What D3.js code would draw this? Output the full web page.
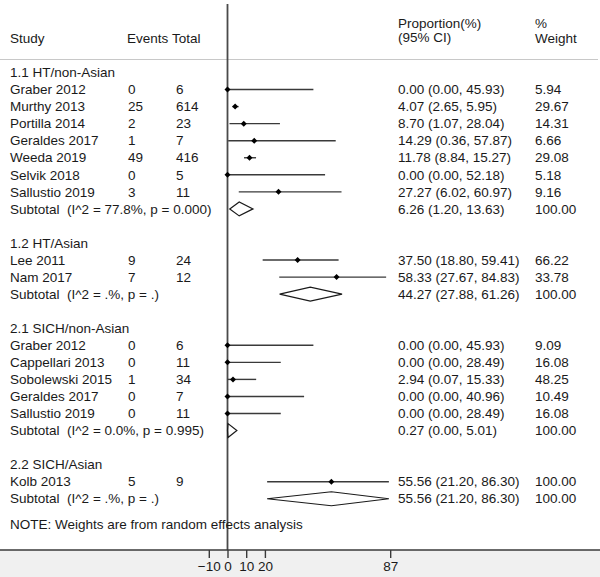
<!DOCTYPE html>
<html>
<head>
<meta charset="utf-8">
<script src="https://cdn.jsdelivr.net/npm/d3@7"></script>
<style>
  body { margin: 0; background: #fff; }
  svg text { font-family: "Liberation Sans", Arial, sans-serif; font-size: 13.5px; fill: #1a1a1a; white-space: pre; }
</style>
</head>
<body>
<svg id="chart" width="600" height="577"></svg>
<script>
// row kinds: g = group title, s = study, t = subtotal, b = blank
const rowKind = ['g','s','s','s','s','s','s','s','t','b',
                 'g','s','s','t','b',
                 'g','s','s','s','s','s','t','b',
                 'g','s','t'];
const rowLabel = ['1.1 HT/non-Asian','Graber 2012','Murthy 2013','Portilla 2014','Geraldes 2017','Weeda 2019','Selvik 2018','Sallustio 2019','Subtotal  (I^2 = 77.8%, p = 0.000)','',
                  '1.2 HT/Asian','Lee 2011','Nam 2017','Subtotal  (I^2 = .%, p = .)','',
                  '2.1 SICH/non-Asian','Graber 2012','Cappellari 2013','Sobolewski 2015','Geraldes 2017','Sallustio 2019','Subtotal  (I^2 = 0.0%, p = 0.995)','',
                  '2.2 SICH/Asian','Kolb 2013','Subtotal  (I^2 = .%, p = .)'];
const rowEvents = ['', '0','25','2','1','49','0','3','','',
                   '', '9','7','','',
                   '', '0','0','1','0','0','','',
                   '', '5',''];
const rowTotal = ['', '6','614','23','7','416','5','11','','',
                  '', '24','12','','',
                  '', '6','11','34','7','11','','',
                  '', '9',''];
const rowEst = [null, 0.00, 4.07, 8.70, 14.29, 11.78, 0.00, 27.27, 6.26, null,
                null, 37.50, 58.33, 44.27, null,
                null, 0.00, 0.00, 2.94, 0.00, 0.00, 0.27, null,
                null, 55.56, 55.56];
const rowLo = [null, 0.00, 2.65, 1.07, 0.36, 8.84, 0.00, 6.02, 1.20, null,
               null, 18.80, 27.67, 27.88, null,
               null, 0.00, 0.00, 0.07, 0.00, 0.00, 0.00, null,
               null, 21.20, 21.20];
const rowHi = [null, 45.93, 5.95, 28.04, 57.87, 15.27, 52.18, 60.97, 13.63, null,
               null, 59.41, 84.83, 61.26, null,
               null, 45.93, 28.49, 15.33, 40.96, 28.49, 5.01, null,
               null, 86.30, 86.30];
const rowWeight = ['', '5.94','29.67','14.31','6.66','29.08','5.18','9.16','100.00','',
                   '', '66.22','33.78','100.00','',
                   '', '9.09','16.08','48.25','10.49','16.08','100.00','',
                   '', '100.00','100.00'];
const xTicks = [-10, 0, 10, 20, 87];
const noteText = 'NOTE: Weights are from random effects analysis';

const W = 600, H = 577;
const svg = d3.select('#chart');

const x = d3.scaleLinear().domain([0, 87]).range([227.5, 227.5 + 87 * 1.87]);
const y = d3.scaleLinear().domain([0, 1]).range([72.5, 89.55]);
const axisY = 550;
const f2 = d3.format('.2f');

// bottom band
svg.append('rect').attr('x', 0).attr('y', axisY).attr('width', W).attr('height', H - axisY).attr('fill', '#f0f0f0');

// header
const hdr = svg.append('g');
hdr.append('text').attr('x', 10).attr('y', 38).attr('dy', '0.35em').text('Study');
hdr.append('text').attr('x', 127).attr('y', 38).attr('dy', '0.35em').text('Events');
hdr.append('text').attr('x', 172).attr('y', 38).attr('dy', '0.35em').text('Total');
hdr.append('text').attr('x', 398).attr('y', 23).attr('dy', '0.35em').text('Proportion(%)');
hdr.append('text').attr('x', 398).attr('y', 37).attr('dy', '0.35em').text('(95% CI)');
hdr.append('text').attr('x', 535).attr('y', 23).attr('dy', '0.35em').text('%');
hdr.append('text').attr('x', 535).attr('y', 38).attr('dy', '0.35em').text('Weight');
svg.append('line').attr('x1', 0).attr('x2', 598).attr('y1', 59.5).attr('y2', 59.5)
  .attr('stroke', '#c8c8c8').attr('stroke-width', 1);

// null line
svg.append('line').attr('x1', x(0)).attr('x2', x(0)).attr('y1', 4).attr('y2', axisY)
  .attr('stroke', '#4a4a4a').attr('stroke-width', 1.8);

const idx = d3.range(rowKind.length);

// text columns
const rows = svg.append('g');
idx.forEach(i => {
  const yy = y(i);
  if (rowKind[i] === 'b') return;
  rows.append('text').attr('x', 10).attr('y', yy).attr('dy', '0.35em').text(rowLabel[i]);
  if (rowKind[i] === 'g') return;
  rows.append('text').attr('x', 128).attr('y', yy).attr('dy', '0.35em').text(rowEvents[i]);
  rows.append('text').attr('x', 176).attr('y', yy).attr('dy', '0.35em').text(rowTotal[i]);
  rows.append('text').attr('x', 398).attr('y', yy).attr('dy', '0.35em')
    .text(f2(rowEst[i]) + ' (' + f2(rowLo[i]) + ', ' + f2(rowHi[i]) + ')');
  rows.append('text').attr('x', 535).attr('y', yy).attr('dy', '0.35em').text(rowWeight[i]);
});

// CI lines and markers
const marks = svg.append('g');
const studyIdx = idx.filter(i => rowKind[i] === 's');
marks.selectAll('line.ci').data(studyIdx).join('line')
  .attr('class', 'ci')
  .attr('x1', i => x(rowLo[i])).attr('x2', i => x(rowHi[i]))
  .attr('y1', i => y(i)).attr('y2', i => y(i))
  .attr('stroke', '#3a3a3a').attr('stroke-width', 1.4);
const ms = 3;
marks.selectAll('path.pt').data(studyIdx).join('path')
  .attr('class', 'pt')
  .attr('d', i => {
    const cx = x(rowEst[i]), cy = y(i);
    return `M${cx - ms},${cy}L${cx},${cy - ms}L${cx + ms},${cy}L${cx},${cy + ms}Z`;
  })
  .attr('fill', '#000');

const subIdx = idx.filter(i => rowKind[i] === 't');
marks.selectAll('path.dia').data(subIdx).join('path')
  .attr('class', 'dia')
  .attr('d', i => {
    const cy = y(i), h = 7;
    return `M${x(rowLo[i])},${cy}L${x(rowEst[i])},${cy - h}L${x(rowHi[i])},${cy}L${x(rowEst[i])},${cy + h}Z`;
  })
  .attr('fill', 'none').attr('stroke', '#1a1a1a').attr('stroke-width', 1.2);

// note
svg.append('text').attr('x', 10).attr('y', 524).attr('dy', '0.35em').text(noteText);

// axis
svg.append('line').attr('x1', 0).attr('x2', W).attr('y1', axisY).attr('y2', axisY)
  .attr('stroke', '#3a3a3a').attr('stroke-width', 1.4);
const ax = svg.append('g').attr('transform', `translate(0,${axisY})`)
  .call(d3.axisBottom(x).tickValues(xTicks).tickFormat(d3.format('d')).tickSize(8).tickPadding(3));
ax.select('.domain').remove();
ax.selectAll('.tick line').attr('stroke', '#3a3a3a').attr('stroke-width', 1.4);
ax.selectAll('.tick text').attr('font-size', 13.5).attr('font-family', '"Liberation Sans", Arial, sans-serif').attr('fill', '#1a1a1a');
</script>
</body>
</html>
